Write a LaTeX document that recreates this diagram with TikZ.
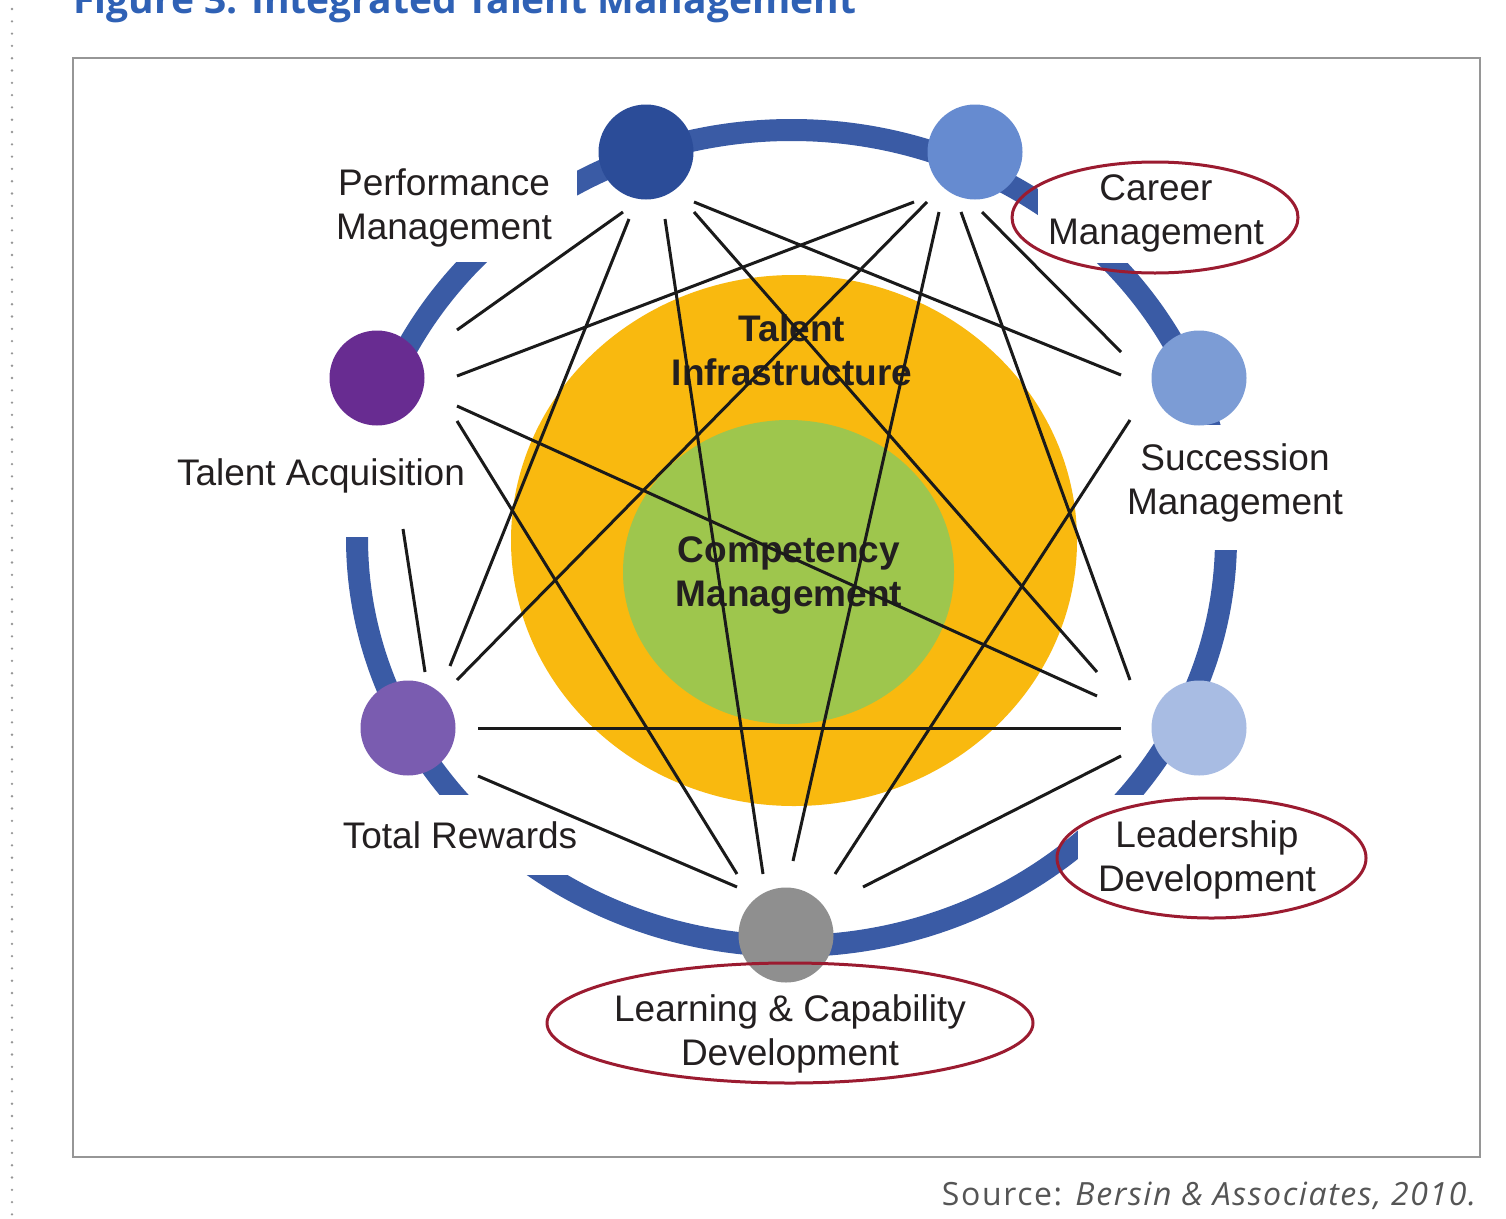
\documentclass[tikz,border=0pt]{standalone}
\usepackage{fontspec}
\setmainfont{Liberation Sans}
\newfontfamily\titlefont{Open Sans}
\newfontfamily\srcfont{Open Sans}[LetterSpace=5]
\definecolor{ringblue}{RGB}{58,91,165}
\definecolor{cpm}{RGB}{43,76,152}
\definecolor{ccm}{RGB}{102,139,208}
\definecolor{csm}{RGB}{124,156,213}
\definecolor{cld}{RGB}{168,188,227}
\definecolor{clc}{RGB}{143,143,143}
\definecolor{ctr}{RGB}{122,92,176}
\definecolor{cta}{RGB}{104,44,145}
\definecolor{markred}{RGB}{155,27,48}
\definecolor{infra}{RGB}{249,185,15}
\definecolor{compet}{RGB}{158,198,77}
\definecolor{framegray}{RGB}{150,150,150}
\definecolor{titleblue}{RGB}{47,97,181}
\definecolor{labeltext}{RGB}{35,31,32}
\definecolor{sourcegray}{RGB}{85,85,85}
\definecolor{linkblack}{RGB}{26,26,26}
\newcommand\lnk[4]{\draw[link] ([shift={(#2)}]#1.center) -- ([shift={(#4)}]#3.center);}
\begin{document}
\begin{tikzpicture}[x=1pt,y=-1pt,
  ring/.style={draw=ringblue,line width=22pt},
  gap/.style={fill=white,draw=none},
  link/.style={draw=linkblack,line width=3pt},
  hub/.style={circle,minimum size=95pt,inner sep=0pt,draw=none},
  lbl/.style={font=\fontsize{37}{44}\selectfont,text=labeltext,align=center,anchor=base,inner sep=0pt},
  core/.style={font=\bfseries\fontsize{37}{44}\selectfont,text=labeltext,align=center,anchor=base,inner sep=0pt},
  redring/.style={draw=markred,line width=3pt},
  dotline/.style={draw=framegray,line width=2.6pt,line cap=round,dash pattern=on 0pt off 12.3pt}
]
\useasboundingbox (0,0) rectangle (1506,1218);
\fill[white] (0,0) rectangle (1506,1218);
% page furniture
\draw[dotline] (12,9) -- (12,1218);
\draw[framegray,line width=1.5pt] (73,58) rectangle (1480,1157);
\node[anchor=base west,inner sep=0pt,text=titleblue,font=\titlefont\bfseries\fontsize{39}{44}\selectfont] (title) at (73,13) {Figure 3: Integrated Talent Management};
\node[anchor=base east,inner sep=0pt,text=sourcegray,font=\srcfont\fontsize{32}{36}\selectfont] (source) at (1478,1205) {Source: \textit{Bersin \& Associates, 2010.}};
% ring
\draw[ring] (791.5,538) ellipse [x radius=434.5,y radius=408];
% gaps under labels
\fill[gap] (300,140) rectangle (577,262);
\fill[gap] (1038,160) rectangle (1290,263);
\fill[gap] (160,420) rectangle (475,537);
\fill[gap] (1110,425) rectangle (1370,550);
\fill[gap] (330,795) rectangle (600,875);
\fill[gap] (1078,795) rectangle (1345,910);
% core ellipses
\fill[infra] (794,540.5) ellipse [x radius=283,y radius=265.5];
\fill[compet] (788.5,572) ellipse [x radius=165.5,y radius=152];
\node[core] (infratext) at (792,385) {Talent\\Infrastructure};
\node[core] (comptext) at (789,606) {Competency\\Management};
% hubs
\node[hub,fill=cpm] (pm) at (646,152) {};
\node[hub,fill=ccm] (cm) at (975,152) {};
\node[hub,fill=csm] (sm) at (1199,378) {};
\node[hub,fill=cld] (ld) at (1199,728) {};
\node[hub,fill=clc] (lc) at (786,935) {};
\node[hub,fill=ctr] (tr) at (408,728) {};
\node[hub,fill=cta] (ta) at (377,378) {};
% links
\lnk{pm}{-23,60}{ta}{80,-48}
\lnk{pm}{-17,67}{tr}{42,-62}
\lnk{pm}{19,67}{lc}{-23,-61}
\lnk{pm}{48,50}{sm}{-78,-3}
\lnk{pm}{48,60}{ld}{-102,-56}
\lnk{cm}{-61,50}{ta}{80,-2}
\lnk{cm}{-48,50}{tr}{49,-48}
\lnk{cm}{-36,60}{lc}{7,-74}
\lnk{cm}{-14,60}{ld}{-69,-48}
\lnk{cm}{7,60}{sm}{-78,-26}
\lnk{ta}{80,28}{ld}{-102,-32}
\lnk{ta}{80,43}{lc}{-49,-61}
\lnk{ta}{26,151}{tr}{17,-56}
\lnk{tr}{70,0}{ld}{-78,0}
\lnk{tr}{70,48}{lc}{-49,-48}
\lnk{sm}{-69,42}{lc}{49,-61}
\lnk{ld}{-78,28}{lc}{77,-48}
% labels
\node[lbl] (pmlabel) at (444,239) {Performance\\Management};
\node[lbl] (cmlabel) at (1156,244) {Career\\Management};
\node[lbl] (smlabel) at (1235,514) {Succession\\Management};
\node[lbl] (talabel) at (321,485) {Talent Acquisition};
\node[lbl] (trlabel) at (460,848) {Total Rewards};
\node[lbl] (ldlabel) at (1207,891) {Leadership\\Development};
\node[lbl] (lclabel) at (790,1065) {Learning \& Capability\\Development};
% highlight ellipses
\draw[redring] (1155,217.5) ellipse [x radius=143,y radius=55.5];
\draw[redring] (1211.5,858) ellipse [x radius=154.5,y radius=60];
\draw[redring] (790,1023) ellipse [x radius=243,y radius=60];
\end{tikzpicture}
\end{document}
